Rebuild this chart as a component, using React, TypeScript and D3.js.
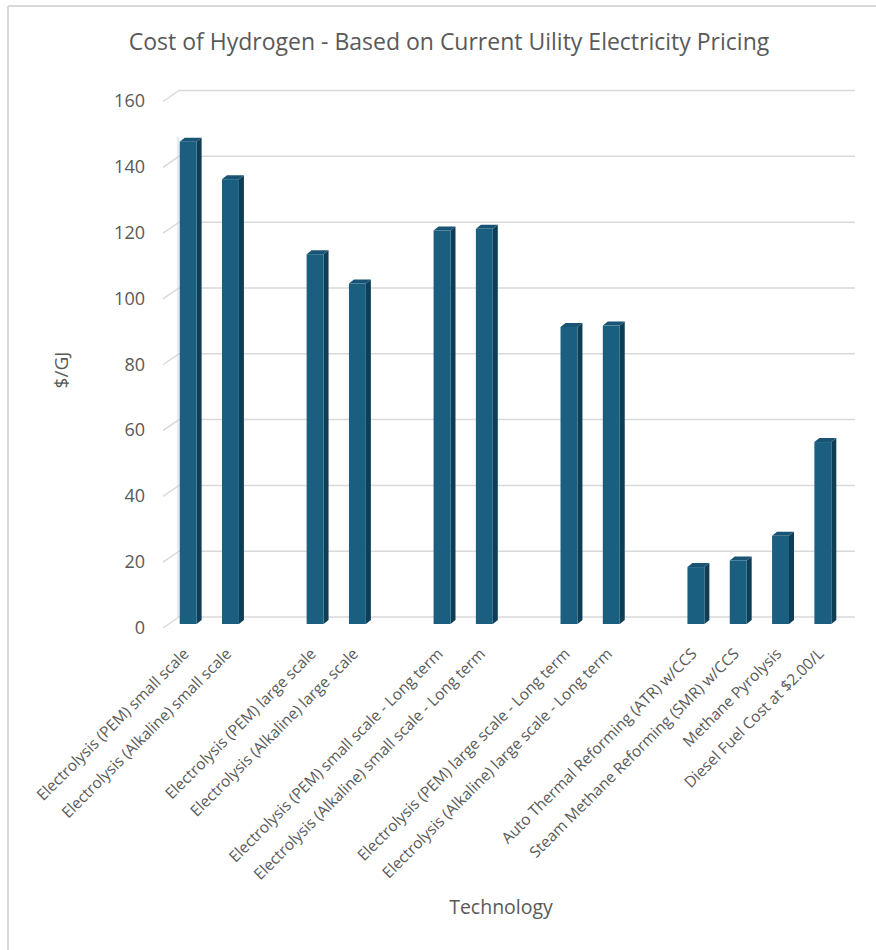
import React from "react";
import * as d3 from "d3";

const categories: string[] = [
  "Electrolysis (PEM) small scale",
  "Electrolysis (Alkaline) small scale",
  "",
  "Electrolysis (PEM) large scale",
  "Electrolysis (Alkaline) large scale",
  "",
  "Electrolysis (PEM) small scale - Long term",
  "Electrolysis (Alkaline) small scale - Long term",
  "",
  "Electrolysis (PEM) large scale - Long term",
  "Electrolysis (Alkaline) large scale - Long term",
  "",
  "Auto Thermal Reforming (ATR) w/CCS",
  "Steam Methane Reforming (SMR) w/CCS",
  "Methane Pyrolysis",
  "Diesel Fuel Cost at $2.00/L",
];
const values: (number | null)[] = [
  146.6, 135.2, null, 112.4, 103.5, null, 119.6, 120.1, null, 90.3, 90.7, null, 17.3, 19.3, 26.8, 55.3,
];
const yTicks: number[] = [0, 20, 40, 60, 80, 100, 120, 140, 160];

const TITLE = "Cost of Hydrogen - Based on Current Uility Electricity Pricing";
const Y_TITLE = "$/GJ";
const X_TITLE = "Technology";

const FONT = "'Open Sans', 'Noto Sans', sans-serif";
const GRAY = "#595959";

export default function App() {
  const W = 876;
  const H = 950;
  const DX = 16;
  const DY = -11;
  const backX0 = 179;
  const backX1 = 855;
  const yBack = d3.scaleLinear().domain([0, 160]).range([617, 90.5]);
  const x = d3.scaleBand<string>().domain(categories.map((c, i) => String(i))).range([167, 844]).paddingInner(0.6).paddingOuter(0.3);
  const barBase = 624;
  const yBar = d3.scaleLinear().domain([0, 160]).range([barBase, barBase - 160 * 3.29]);
  const bw = x.bandwidth();
  const bdx = 5;
  const bdy = -4;

  return (
    <div style={{ position: "absolute", left: 0, top: 0 }}>
      <svg width={W} height={H} style={{ display: "block", background: "#fff" }}>
        <line x1={8} y1={6} x2={W} y2={6} stroke="#d9d9d9" strokeWidth={2} />
        <line x1={8} y1={6} x2={8} y2={H} stroke="#d9d9d9" strokeWidth={2} />
        <text x={449} y={50} textAnchor="middle" fontFamily={FONT} fontSize={23} fill={GRAY}>
          {TITLE}
        </text>
        {yTicks.map((t) => (
          <g key={t}>
            <polyline
              points={`${backX0 - DX},${yBack(t) - DY} ${backX0},${yBack(t)} ${backX1},${yBack(t)}`}
              fill="none"
              stroke="#d9d9d9"
              strokeWidth={1.5}
            />
            <text x={145} y={yBack(t) - DY + 1} textAnchor="end" dominantBaseline="middle" fontFamily={FONT} fontSize={18} fill={GRAY}>
              {t}
            </text>
          </g>
        ))}
        <line x1={backX0 - 1} y1={137} x2={backX0 - 1} y2={yBack(0)} stroke="#bfdcec" strokeWidth={1} />
        {values.map((v, i) => {
          if (v == null) return null;
          const x0 = x(String(i))!;
          const x1 = x0 + bw;
          const yt = yBar(v);
          return (
            <g key={i}>
              <polygon points={`${x1},${yt} ${x1 + bdx},${yt + bdy} ${x1 + bdx},${barBase + bdy} ${x1},${barBase}`} fill="#0e3e55" />
              <polygon points={`${x0},${yt} ${x0 + bdx},${yt + bdy} ${x1 + bdx},${yt + bdy} ${x1},${yt}`} fill="#1a5474" />
              <rect x={x0} y={yt} width={bw} height={barBase - yt} fill="#1b5f80" />
            </g>
          );
        })}
        {categories.map((c, i) => {
          if (!c) return null;
          const cx = x(String(i))! + bw / 2 - 2;
          const cy = 651;
          return (
            <text
              key={i}
              transform={`translate(${cx},${cy}) rotate(-45)`}
              textAnchor="end"
              dy="0.35em"
              fontFamily={FONT}
              fontSize={15.5}
              fill={GRAY}
            >
              {c}
            </text>
          );
        })}
        <text transform={`translate(68,370) rotate(-90)`} textAnchor="middle" fontFamily={FONT} fontSize={19} fill={GRAY}>
          {Y_TITLE}
        </text>
        <text x={501} y={914} textAnchor="middle" fontFamily={FONT} fontSize={19.5} fill={GRAY}>
          {X_TITLE}
        </text>
      </svg>
    </div>
  );
}
